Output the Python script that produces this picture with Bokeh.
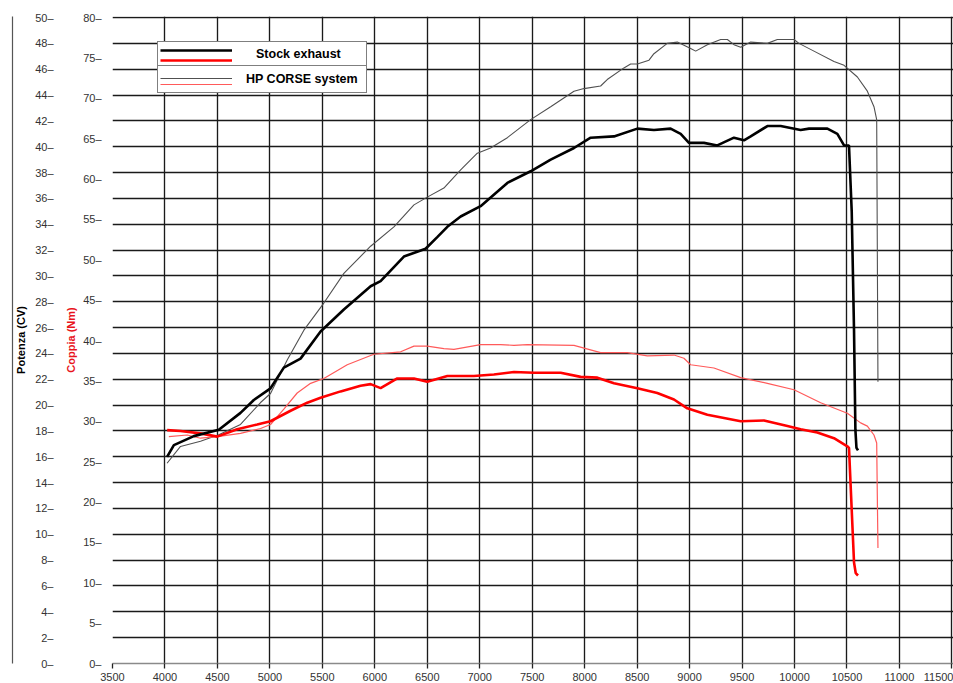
from bokeh.plotting import figure
from bokeh.models import (Range1d, LinearAxis, FixedTicker, CustomJSTickFormatter,
                          Legend, LegendItem)
from bokeh.core.properties import value
from bokeh.embed import file_html
from bokeh.resources import INLINE

# ---------------- data ----------------
rpm_ticks = list(range(3500, 11501, 500))
cv_ticks = list(range(0, 51, 2))
nm_ticks = list(range(0, 81, 5))

# Power, stock exhaust (rpm, CV)
stock_cv_rpm = [4020, 4085, 4275, 4513, 4720, 4847, 5006, 5133, 5292, 5483, 5705, 5960,
                6055, 6277, 6484, 6595, 6691, 6818, 7008, 7263, 7485, 7676, 7898, 8057,
                8279, 8502, 8660, 8819, 8915, 8994, 9137, 9264, 9423, 9518, 9582, 9741,
                9868, 10058, 10138, 10313, 10408, 10472, 10519, 10545, 10567, 10580, 10590, 10605]
stock_cv = [16.0, 16.9, 17.6, 18.1, 19.4, 20.4, 21.3, 22.9, 23.6, 25.7, 27.4, 29.2,
            29.6, 31.5, 32.1, 33.0, 33.8, 34.6, 35.4, 37.2, 38.1, 39.0, 39.9, 40.7,
            40.8, 41.4, 41.3, 41.4, 41.0, 40.3, 40.3, 40.1, 40.7, 40.5, 40.8, 41.6,
            41.6, 41.3, 41.4, 41.4, 41.0, 40.1, 40.1, 35.0, 25.8, 18.1, 16.7, 16.5]

# Power, HP CORSE system (rpm, CV)
hp_cv_rpm = [4020, 4148, 4339, 4513, 4720, 4911, 5006, 5165, 5324, 5514, 5705, 5960,
             6182, 6373, 6500, 6658, 6818, 6977, 7103, 7263, 7485, 7676, 7898, 7993,
             8152, 8215, 8374, 8438, 8502, 8613, 8660, 8787, 8883, 9010, 9058, 9169,
             9296, 9360, 9423, 9487, 9582, 9741, 9836, 9995, 10042, 10185, 10376, 10472,
             10599, 10694, 10757, 10783, 10795]
hp_cv = [15.5, 16.8, 17.2, 17.7, 18.5, 20.2, 20.9, 23.5, 25.8, 27.9, 30.2, 32.3,
         33.8, 35.5, 36.1, 36.8, 38.2, 39.5, 39.9, 40.7, 42.1, 43.1, 44.3, 44.5,
         44.7, 45.2, 46.1, 46.4, 46.4, 46.7, 47.2, 48.0, 48.1, 47.6, 47.4, 47.9,
         48.3, 48.3, 47.9, 47.7, 48.1, 48.0, 48.3, 48.3, 48.0, 47.4, 46.6, 46.3,
         45.4, 44.3, 43.1, 42.1, 21.8]

# Torque, stock exhaust (rpm, Nm)
stock_nm_rpm = [4021, 4148, 4339, 4498, 4688, 4879, 5006, 5197, 5356, 5483, 5674, 5864,
                5960, 6055, 6214, 6373, 6500, 6691, 6945, 7135, 7326, 7517, 7771, 7962,
                8121, 8279, 8502, 8692, 8851, 8978, 9169, 9487, 9709, 9932, 10058, 10217,
                10376, 10503, 10519, 10567, 10583, 10605]
stock_nm = [28.9, 28.8, 28.5, 28.1, 29.0, 29.6, 30.0, 31.3, 32.3, 32.9, 33.7, 34.4,
            34.6, 34.1, 35.3, 35.3, 34.9, 35.6, 35.6, 35.8, 36.1, 36.0, 36.0, 35.5,
            35.4, 34.7, 34.1, 33.5, 32.7, 31.6, 30.8, 30.0, 30.1, 29.4, 29.0, 28.6,
            27.9, 26.9, 26.7, 12.5, 11.2, 10.9]

# Torque, HP CORSE system (rpm, Nm)
hp_nm_rpm = [4037, 4212, 4339, 4498, 4720, 4911, 5006, 5133, 5260, 5388, 5514, 5737,
             5991, 6246, 6373, 6500, 6658, 6754, 7008, 7199, 7326, 7453, 7898, 8152,
             8406, 8597, 8851, 8946, 9010, 9232, 9487, 9741, 9995, 10249, 10503, 10630,
             10694, 10757, 10783, 10789, 10795]
hp_nm = [28.1, 28.3, 27.9, 28.1, 28.5, 29.1, 29.6, 31.5, 33.5, 34.7, 35.3, 37.0,
         38.3, 38.6, 39.3, 39.3, 39.0, 38.9, 39.5, 39.5, 39.4, 39.5, 39.4, 38.5,
         38.5, 38.1, 38.2, 37.8, 37.0, 36.6, 35.4, 34.7, 33.9, 32.3, 31.0, 29.8,
         29.4, 28.3, 27.3, 20.7, 14.3]

series_labels = ["Stock exhaust", "HP CORSE system"]

# ---------------- figure ----------------
FONT = "Liberation Sans"
TICK_COLOR = "#333333"
CV_TOP = 50.08           # tiny headroom so the top grid line is drawn
NM_TOP = 80 * CV_TOP / 50

p = figure(width=953, height=683, output_backend="svg", toolbar_location=None,
           x_range=Range1d(3500, 11515), y_range=Range1d(0, CV_TOP),
           y_axis_location=None,
           min_border_left=112, min_border_right=0, min_border_top=16, min_border_bottom=0,
           background_fill_color="white", border_fill_color="white")
p.outline_line_color = None
p.extra_y_ranges = {"nm": Range1d(0, NM_TOP)}

# x axis
p.xaxis.ticker = FixedTicker(ticks=rpm_ticks)
p.xaxis.major_tick_out = 5
p.xaxis.major_tick_in = 0
p.xaxis.minor_tick_line_color = None
p.xaxis.major_tick_line_color = "#222222"
p.xaxis.major_tick_line_width = 1.3
p.xaxis.axis_line_color = "#8a8a8a"
p.xaxis.axis_line_width = 1.5
p.xaxis.major_label_standoff = 4
p.xaxis.major_label_text_font = FONT
p.xaxis.major_label_text_font_size = "11px"
p.xaxis.major_label_text_color = TICK_COLOR

# grids
p.xgrid.ticker = FixedTicker(ticks=rpm_ticks)
p.ygrid.ticker = FixedTicker(ticks=cv_ticks[1:])
for g in (p.xgrid, p.ygrid):
    g.grid_line_color = "#1a1a1a"
    g.grid_line_width = 1.35

dash_fmt = CustomJSTickFormatter(code="return tick + '\u2013';")

def style_y(ax, standoff, label_standoff, label_color):
    ax.major_tick_out = 0
    ax.major_tick_in = 0
    ax.minor_tick_line_color = None
    ax.major_tick_line_color = None
    ax.axis_line_color = None
    ax.major_label_standoff = standoff
    ax.major_label_text_font = FONT
    ax.major_label_text_font_size = "11px"
    ax.major_label_text_color = TICK_COLOR
    ax.axis_label_standoff = label_standoff
    ax.axis_label_text_font = FONT
    ax.axis_label_text_font_size = "11px"
    ax.axis_label_text_font_style = "bold"
    ax.axis_label_text_color = label_color

nm_axis = LinearAxis(y_range_name="nm", ticker=FixedTicker(ticks=nm_ticks),
                     formatter=dash_fmt, axis_label="Coppia (Nm)")
style_y(nm_axis, 11, 3, "#e8141c")
cv_axis = LinearAxis(ticker=FixedTicker(ticks=cv_ticks), formatter=dash_fmt,
                     axis_label="Potenza (CV)")
style_y(cv_axis, 9, 5, "black")
p.add_layout(nm_axis, "left")
p.add_layout(cv_axis, "left")

# outer border line of the chart
border_axis = LinearAxis(ticker=FixedTicker(ticks=[]), axis_line_color="#555555",
                         axis_line_width=1.2, major_tick_out=0, major_tick_in=0,
                         minor_tick_out=0, minor_tick_in=0, major_label_standoff=0,
                         major_label_text_font_size="0px")
p.add_layout(border_axis, "left")

# ---------------- curves ----------------
r_hp_cv = p.line(hp_cv_rpm, hp_cv, line_color="#505050", line_width=1.1)
r_hp_nm = p.line(hp_nm_rpm, hp_nm, y_range_name="nm", line_color="#ff5a5a", line_width=1.2)
r_stock_nm = p.line(stock_nm_rpm, stock_nm, y_range_name="nm", line_color="#ff0000", line_width=2.6)
r_stock_cv = p.line(stock_cv_rpm, stock_cv, line_color="#000000", line_width=2.6)

# ---------------- legend (table style) ----------------
FB = 664  # expected frame bottom (page px), used for legend placement
LX = 157 - 112

def box_legend(text, top, bottom, standoff, lw):
    h = bottom - top
    return Legend(items=[LegendItem(label=value(text), renderers=[])],
                  location=(LX, FB - bottom), margin=0, padding=4, spacing=0,
                  glyph_width=72, glyph_height=h - 8, label_height=h - 8,
                  label_standoff=standoff, label_width=lw,
                  label_text_font=FONT, label_text_font_style="bold",
                  label_text_font_size="12.5px", label_text_color="black",
                  border_line_color="black", border_line_width=1.5,
                  background_fill_color="white", background_fill_alpha=1.0)

def line_legend(renderers, top, pitch):
    gh = 10
    bottom = top + 2 * gh + (pitch - gh)
    return Legend(items=[LegendItem(label=value(" "), renderers=[r]) for r in renderers],
                  location=(LX + 3, FB - bottom), margin=0, padding=0, spacing=pitch - gh,
                  glyph_width=72, glyph_height=gh, label_height=gh,
                  label_standoff=0, label_width=0, label_text_font_size="6px",
                  border_line_color=None, background_fill_alpha=0.0)

p.add_layout(box_legend(series_labels[0], 44, 68, 22, 106), "center")
p.add_layout(box_legend(series_labels[1], 68, 94, 12, 116), "center")
p.add_layout(line_legend([r_stock_cv, r_hp_cv], 46, 28), "center")
p.add_layout(line_legend([r_stock_nm, r_hp_nm], 56, 24), "center")

open("out.html", "w").write(file_html(p, INLINE))
